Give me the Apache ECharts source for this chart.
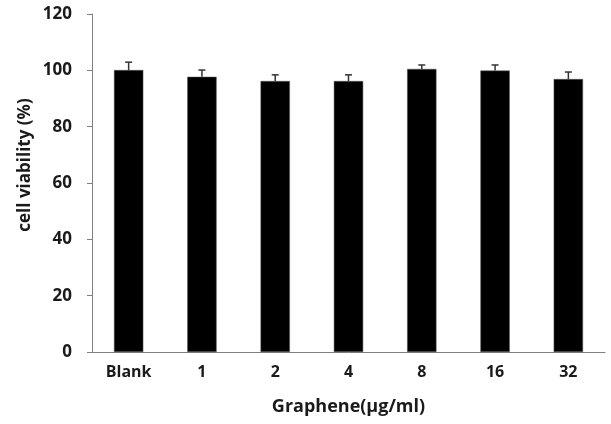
<!DOCTYPE html>
<html>
<head>
<meta charset="utf-8">
<script src="https://cdn.jsdelivr.net/npm/echarts@6/dist/echarts.min.js"></script>
<style>
  html, body { margin: 0; padding: 0; background: #fff; }
  #chart { width: 611px; height: 424px; }
</style>
</head>
<body>
<div id="chart"></div>
<script>
// concentrations of graphene
const categories = ["Blank", "1", "2", "4", "8", "16", "32"];
// cell viability (%) and the upper error
const viability = [100.1, 97.7, 96.2, 96.2, 100.5, 99.9, 96.9];
const errors = [2.8, 2.4, 2.2, 2.2, 1.4, 2.0, 2.5];
const yTicks = [0, 20, 40, 60, 80, 100, 120];

const font = '"Open Sans", "Noto Sans", sans-serif';

let chart = echarts.init(document.getElementById("chart"));

let option = {
    animation: false,
    backgroundColor: "#fff",
    grid: { left: 92, right: 6, top: 14, bottom: 72, containLabel: false, outerBoundsMode: "none" },
    xAxis: {
        type: "category",
        data: categories,
        axisLine: { lineStyle: { color: "#808080", width: 1 } },
        axisTick: { show: false },
        axisLabel: {
            margin: 12,
            fontFamily: font,
            fontWeight: "bold",
            fontSize: 16,
            color: "#1a1a1a"
        },
        name: "Graphene(\u03bcg/ml)",
        nameLocation: "middle",
        nameGap: 46,
        nameTextStyle: {
            fontFamily: font,
            fontWeight: "bold",
            fontSize: 18,
            color: "#1a1a1a"
        }
    },
    yAxis: {
        type: "value",
        min: yTicks[0],
        max: yTicks[yTicks.length - 1],
        interval: 20,
        splitLine: { show: false },
        axisLine: { show: true, lineStyle: { color: "#808080", width: 1 } },
        axisTick: { show: true, length: 5, lineStyle: { color: "#808080" } },
        axisLabel: {
            margin: 20,
            fontFamily: font,
            fontWeight: "bold",
            fontSize: 17,
            color: "#1a1a1a"
        }
    },
    graphic: [{
        type: "text",
        rotation: Math.PI / 2,
        x: 25,
        y: 165,
        style: {
            text: "cell viability (%)",
            fontFamily: font,
            fontWeight: "bold",
            fontSize: 17,
            fill: "#1a1a1a",
            textAlign: "center",
            textVerticalAlign: "middle"
        }
    }],
    series: [
        {
            type: "bar",
            data: viability,
            barWidth: "40%",
            itemStyle: { color: "#000", borderColor: "#555", borderWidth: 0.5 }
        },
        {
            type: "custom",
            data: viability.map((v, i) => [i, v, v + errors[i]]),
            z: 1,
            renderItem: function (params, api) {
                let base = api.coord([api.value(0), api.value(1)]);
                let top = api.coord([api.value(0), api.value(2)]);
                let half = 3.5;
                let style = { stroke: "#333", lineWidth: 1.5 };
                return {
                    type: "group",
                    children: [
                        { type: "line", shape: { x1: base[0], y1: base[1], x2: top[0], y2: top[1] }, style: style },
                        { type: "line", shape: { x1: top[0] - half, y1: top[1], x2: top[0] + half, y2: top[1] }, style: style }
                    ]
                };
            }
        }
    ]
};

chart.setOption(option);
</script>
</body>
</html>
